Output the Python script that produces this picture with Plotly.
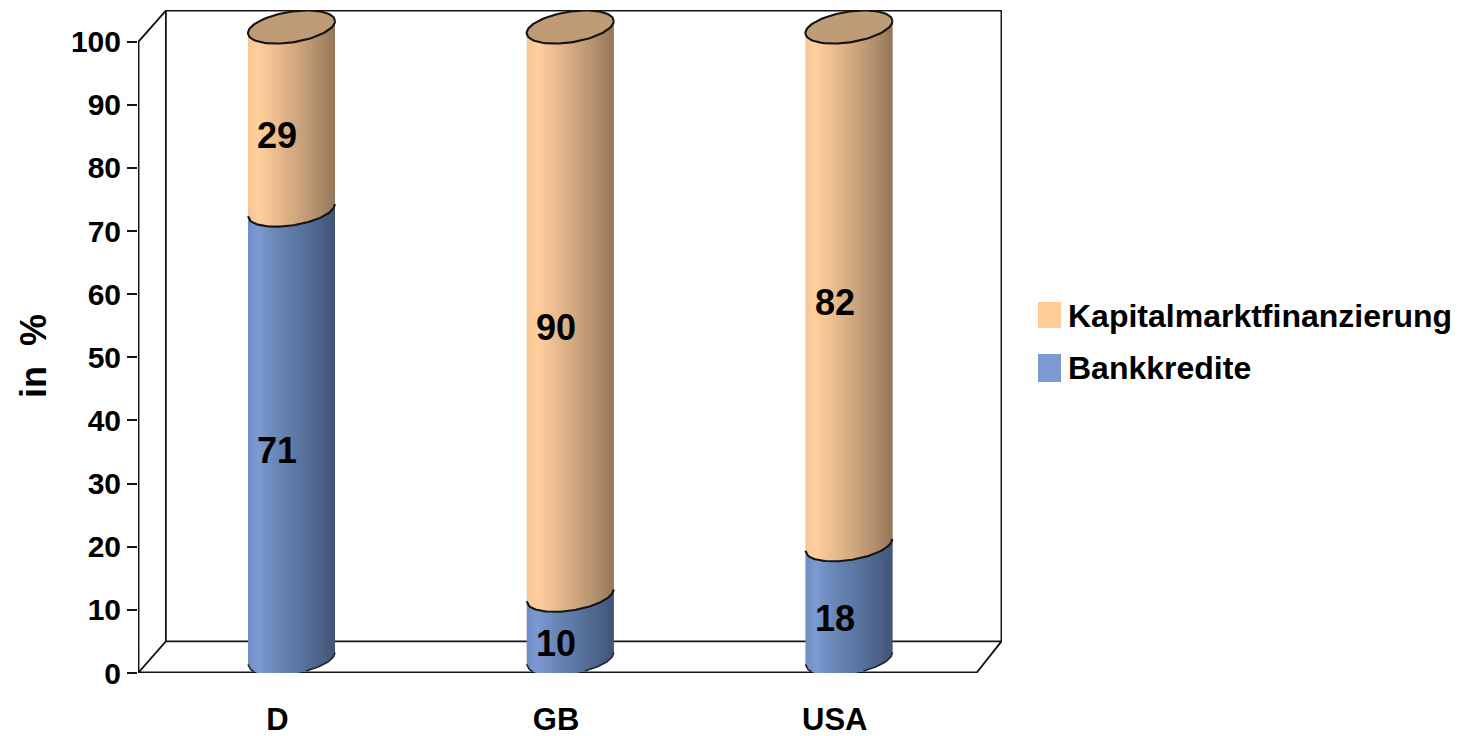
import plotly.graph_objects as go
import numpy as np

# Financing structure by country, in percent
categories = ["D", "GB", "USA"]
bankkredite = [71, 10, 18]
kapitalmarkt = [29, 90, 82]
y_ticks = [0, 10, 20, 30, 40, 50, 60, 70, 80, 90, 100]
series_names = ["Kapitalmarktfinanzierung", "Bankkredite"]

FONT = "Liberation Sans, Arial, sans-serif"
W, H = 1463, 736
L, R, T, B = 138, 461, 10, 63
Y_MAX = 105
X_MIN, X_MAX = -0.5, 2.6

# pseudo-3D depth of the chart box, in axis units
DEPTH_X, DEPTH_Y = 0.1, 5

# cylinder geometry in axis units
HALF_W = 0.1561
OFF_X = 0.0507
OFF_Y = 2.3
ELL_B = 2.44
ELL_C = 0.95

ORANGE_STOPS = [(0, (246, 197, 150)), (.12, (255, 207, 156)), (.35, (232, 186, 142)),
                (.55, (208, 167, 127)), (.78, (180, 145, 110)), (1, (150, 118, 88))]
BLUE_STOPS = [(0, (112, 142, 198)), (.12, (124, 154, 210)), (.35, (104, 133, 180)),
              (.55, (92, 120, 165)), (.78, (80, 103, 142)), (1, (66, 84, 118))]
CAP_COLOR = "#bf9b76"
EDGE = "#141414"
N_SLICES = 44


def shade(stops, f):
    xs = [s[0] for s in stops]
    rgb = [int(round(np.interp(f, xs, [s[1][i] for s in stops]))) for i in range(3)]
    return f"rgb({rgb[0]},{rgb[1]},{rgb[2]})"


def arc(xc, level, xs):
    """Lower edge of the tilted ellipse at a given value level, for positions xs."""
    u = np.clip((xs - xc) / HALF_W, -1, 1)
    return level + OFF_Y + ELL_C * u - ELL_B * np.sqrt(1 - u ** 2)


def cap_outline(xc, level):
    t = np.linspace(0, 2 * np.pi, 90)
    return xc + HALF_W * np.cos(t), level + OFF_Y + ELL_C * np.cos(t) + ELL_B * np.sin(t)


fig = go.Figure()


def add_line(xs, ys, width=1.8, color=EDGE):
    fig.add_trace(go.Scatter(x=xs, y=ys, mode="lines", showlegend=False, hoverinfo="skip",
                             line=dict(color=color, width=width)))


# box: back wall, floor and left wall edges
x0, x1 = X_MIN, 2.51
add_line([x0 + DEPTH_X, x0 + DEPTH_X, X_MAX - .002, X_MAX - .002],
         [DEPTH_Y, Y_MAX - .1, Y_MAX - .1, DEPTH_Y])
add_line([x0 + .002, x0 + DEPTH_X, X_MAX - .002, x1, x0 + .002, x0 + .002, x0 + DEPTH_X],
         [0.1, DEPTH_Y, DEPTH_Y, 0.1, 0.1, 100, Y_MAX - .1])


def add_segment(xc, low, high, stops):
    # thin vertical strips, each running under its right neighbour so no seams show
    edges = np.linspace(xc - HALF_W, xc + HALF_W, N_SLICES + 1)
    for i in range(N_SLICES):
        pair = np.linspace(edges[i], edges[min(i + 2, N_SLICES)], 3)
        color = shade(stops, (i + .5) / N_SLICES)
        xs = np.concatenate([pair, pair[::-1]])
        ys = np.concatenate([arc(xc, low, pair), arc(xc, high, pair[::-1])])
        fig.add_trace(go.Scatter(x=xs, y=ys, mode="lines", fill="toself", fillcolor=color,
                                 line=dict(width=0), showlegend=False, hoverinfo="skip"))


for i, (bank, kap) in enumerate(zip(bankkredite, kapitalmarkt)):
    xc = i + OFF_X
    add_segment(xc, 0, bank, BLUE_STOPS)
    add_segment(xc, bank, bank + kap, ORANGE_STOPS)

    fine = np.linspace(xc - HALF_W, xc + HALF_W, 70)
    add_line(fine, arc(xc, bank, fine), width=2.1)
    add_line(fine[fine > xc + 0.05], arc(xc, 0, fine[fine > xc + 0.05]), width=1.6, color="#1c2438")
    add_line(fine[fine < xc - 0.13], arc(xc, 0, fine[fine < xc - 0.13]), width=1.6, color="#1c2438")

    cx, cy = cap_outline(xc, bank + kap)
    fig.add_trace(go.Scatter(x=cx, y=cy, mode="lines", fill="toself", fillcolor=CAP_COLOR,
                             line=dict(color=EDGE, width=2.1), showlegend=False, hoverinfo="skip"))

xpos = list(range(len(categories)))


def paper_x(px):
    return (px - L) / (W - L - R)


def paper_y(px):
    return 1 - (px - T) / (H - T - B)


shapes = []
annotations = []

# value labels centred on each segment
for i, (bank, kap) in enumerate(zip(bankkredite, kapitalmarkt)):
    for value, mid in ((bank, bank / 2), (kap, bank + kap / 2)):
        annotations.append(dict(x=i, y=mid, xref="x", yref="y", text=str(value), showarrow=False,
                                yshift=-2, font=dict(family=FONT, size=36, color="black", weight="bold")))

# key on the right of the plot
key_rows = [(series_names[0], "#ffcc99", 302, 328, 316), (series_names[1], "#7c9ad2", 354, 382, 368)]
for name, color, top, bottom, mid in key_rows:
    shapes.append(dict(type="rect", xref="paper", yref="paper", x0=paper_x(1038), x1=paper_x(1061),
                       y0=paper_y(bottom), y1=paper_y(top), fillcolor=color, line=dict(width=0)))
    annotations.append(dict(xref="paper", yref="paper", x=paper_x(1066), y=paper_y(mid), text=name,
                            showarrow=False, xanchor="left", yanchor="middle",
                            font=dict(family=FONT, size=32, color="black", weight="bold")))

annotations.append(dict(xref="paper", yref="paper", x=paper_x(33), y=paper_y(356), text="in  %",
                        textangle=-90, showarrow=False, xanchor="center", yanchor="middle",
                        font=dict(family=FONT, size=36, color="black", weight="bold")))

fig.update_layout(
    width=W, height=H, margin=dict(l=L, r=R, t=T, b=B, pad=0),
    paper_bgcolor="white", plot_bgcolor="white", showlegend=False,
    shapes=shapes, annotations=annotations,
    xaxis=dict(range=[X_MIN, X_MAX], tickmode="array", tickvals=xpos, ticktext=categories,
               automargin=False, showgrid=False, zeroline=False, showline=False, ticks="",
               ticklabelstandoff=25, tickfont=dict(family=FONT, size=31, color="black", weight="bold")),
    yaxis=dict(range=[0, Y_MAX], tickmode="array", tickvals=y_ticks, automargin=False, showgrid=False,
               zeroline=False, showline=False, ticks="outside", ticklen=10, tickwidth=1.8, tickcolor=EDGE,
               tickfont=dict(family=FONT, size=30, color="black", weight="bold")),
)

fig.write_html("out.html")
